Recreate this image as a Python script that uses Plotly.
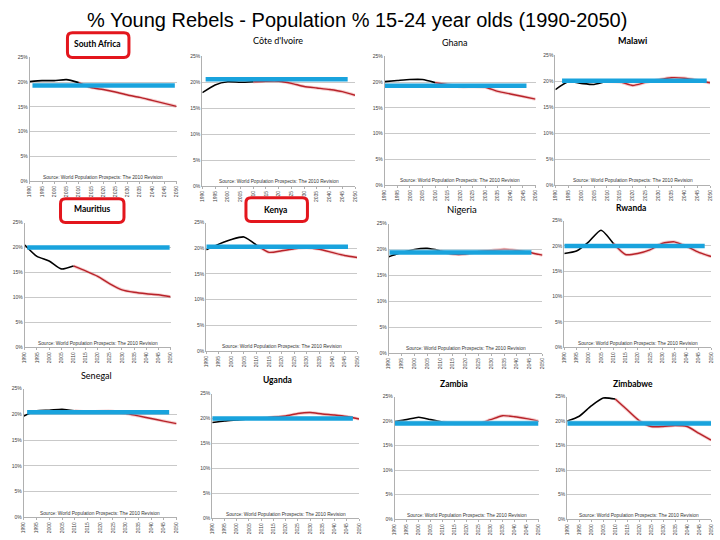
import plotly.graph_objects as go

# ---------------- data ----------------
years = [1990, 1995, 2000, 2005, 2010, 2015, 2020, 2025, 2030, 2035, 2040, 2045, 2050]
year_labels = [str(y) for y in years]
pct_ticks = [0, 5, 10, 15, 20, 25]
pct_labels = ["0%", "5%", "10%", "15%", "20%", "25%"]

countries = ["South Africa", "Côte d'Ivoire", "Ghana", "Malawi",
             "Mauritius", "Kenya", "Nigeria", "Rwanda",
             "Senegal", "Uganda", "Zambia", "Zimbabwe"]

south_africa = [20.1, 20.3, 20.3, 20.5, 19.9, 18.9, 18.5, 18.0, 17.4, 16.9, 16.3, 15.7, 15.1]
cote_divoire = [18.0, 19.5, 20.1, 20.0, 20.1, 20.2, 20.2, 19.8, 19.2, 18.9, 18.6, 18.2, 17.5]
ghana = [20.1, 20.3, 20.5, 20.5, 19.9, 19.5, 19.1, 19.1, 19.0, 18.2, 17.7, 17.2, 16.7]
malawi = [18.4, 19.9, 19.6, 19.4, 20.0, 19.9, 19.2, 19.8, 20.3, 20.7, 20.6, 20.2, 19.7]
mauritius = [20.5, 18.2, 17.3, 15.7, 16.3, 15.3, 14.2, 12.7, 11.5, 11.0, 10.7, 10.5, 10.1]
kenya = [19.7, 20.8, 21.7, 22.2, 20.6, 19.2, 19.5, 19.9, 20.1, 19.8, 19.2, 18.6, 18.2]
nigeria = [18.6, 19.4, 20.0, 20.2, 19.75, 19.1, 19.1, 19.6, 19.8, 20.0, 19.8, 19.4, 18.9]
rwanda = [18.5, 19.0, 20.8, 23.1, 20.5, 18.3, 18.5, 19.2, 20.5, 20.8, 19.9, 18.7, 17.9]
senegal = [19.7, 20.7, 20.8, 21.0, 20.7, 20.5, 20.6, 20.6, 20.2, 19.7, 19.2, 18.7, 18.2]
uganda = [19.2, 19.5, 19.7, 19.9, 20.0, 20.3, 20.5, 21.0, 21.2, 20.9, 20.7, 20.4, 19.9]
zambia = [19.9, 20.3, 20.8, 20.3, 19.8, 19.5, 19.5, 19.5, 20.3, 21.1, 20.9, 20.5, 20.0]
zimbabwe = [20.0, 21.0, 23.1, 24.7, 24.5, 22.3, 20.1, 18.9, 18.9, 19.1, 18.9, 17.5, 16.1]

series = [south_africa, cote_divoire, ghana, malawi, mauritius, kenya,
          nigeria, rwanda, senegal, uganda, zambia, zimbabwe]

# blue reference bar: level, start year, end year
bar_level = [19.3, 20.6, 19.3, 20.1, 20.0, 20.3, 19.4, 20.0, 20.4, 20.0, 19.5, 19.5]
bar_start = [1991.1, 1991.3, 1990.0, 1992.6, 1991.0, 1990.0, 1990.3, 1990.0, 1991.3, 1990.0, 1990.0, 1990.0]
bar_end = [2049.3, 2047.1, 2046.4, 2048.7, 2049.6, 2046.4, 2045.7, 2047.4, 2047.1, 2047.5, 2050.0, 2050.0]
# thin light outline above the bar (only where visible)
bar_outline = [None, None, None, None, None, None, 19.9, None, None, None, 20.0, 20.0]

highlighted = ["South Africa", "Mauritius", "Kenya"]
source_text = "Source: World Population Prospects: The 2010 Revision"
main_title = "% Young Rebels - Population % 15-24 year olds (1990-2050)"

# ---------------- layout geometry (pixels) ----------------
W, H = 720, 540
# left, right, top(25%), bottom(0%)
boxes = [
    (27, 175, 55, 180), (201, 355, 54, 185), (385, 537, 54, 184), (557, 713, 53, 184),
    (22, 169, 222, 348), (205, 357, 222, 352), (389, 544, 223, 354), (566, 714, 220, 348),
    (21, 175, 390, 520), (211, 359, 395, 521), (395, 540, 398, 522), (569, 714, 398, 522),
]
title_pos = [
    (95, 41), (277, 38), (456, 40), (635, 38),
    (90, 208), (275, 209), (463, 209), (633, 207),
    (94, 377), (277, 381), (455, 385), (635, 385),
]
title_bold = [True, False, False, True, True, True, False, True, False, True, True, True]
title_size = [8.5, 9, 9, 9, 8.5, 8.5, 9.5, 8.5, 9, 8.5, 8.5, 8.5]
red_boxes = {"South Africa": (65, 127, 30, 55), "Mauritius": (58, 122, 198, 222),
             "Kenya": (245, 307, 197, 221)}

BLACK = "#000000"
RED = "#b8232a"
BLUE = "#19a3dd"
GRID = "#c9c9c9"


def px_x(x):
    return x / W


def px_y(y):
    return 1 - y / H


fig = go.Figure()
annotations = []
shapes = []

for i, name in enumerate(countries):
    n = i + 1
    xa = "x" if n == 1 else f"x{n}"
    ya = "y" if n == 1 else f"y{n}"
    vals = series[i]
    # projection glow + line
    fig.add_trace(go.Scatter(x=years[4:], y=vals[4:], mode="lines", xaxis=xa, yaxis=ya,
                             line=dict(color="rgba(225,110,110,0.35)", width=3.2,
                                       shape="spline", smoothing=0.6),
                             hoverinfo="skip", showlegend=False))
    fig.add_trace(go.Scatter(x=years[4:], y=vals[4:], mode="lines", xaxis=xa, yaxis=ya,
                             line=dict(color=RED, width=1.4, shape="spline", smoothing=0.6),
                             name=name + " projection", showlegend=False))
    fig.add_trace(go.Scatter(x=years[:5], y=vals[:5], mode="lines", xaxis=xa, yaxis=ya,
                             line=dict(color=BLACK, width=1.6, shape="spline", smoothing=0.6),
                             name=name + " estimate", showlegend=False))
    if bar_outline[i] is not None:
        fig.add_trace(go.Scatter(x=[bar_start[i], bar_end[i]], y=[bar_outline[i]] * 2,
                                 mode="lines", xaxis=xa, yaxis=ya,
                                 line=dict(color="#a9def3", width=1),
                                 hoverinfo="skip", showlegend=False))
    fig.add_trace(go.Scatter(x=[bar_start[i], bar_end[i]], y=[bar_level[i]] * 2,
                             mode="lines", xaxis=xa, yaxis=ya,
                             line=dict(color=BLUE, width=4.5),
                             hoverinfo="skip", showlegend=False))

    l, r, t, b = boxes[i]
    axis_x = dict(domain=[px_x(l), px_x(r)], range=[1990, 2050], anchor=ya,
                  tickmode="array", tickvals=years, ticktext=year_labels, tickangle=-90,
                  tickfont=dict(size=5, color="#404040", family="Liberation Sans"),
                  showgrid=False, zeroline=False, showline=True, linecolor="#b0b0b0",
                  linewidth=1, ticks="outside", ticklen=2, tickcolor="#b0b0b0")
    axis_y = dict(domain=[px_y(b), px_y(t)], range=[0, 25], anchor=xa,
                  tickmode="array", tickvals=pct_ticks, ticktext=pct_labels,
                  tickfont=dict(size=5, color="#404040", family="Liberation Sans"),
                  showgrid=True, gridcolor=GRID, gridwidth=0.8, zeroline=False,
                  showline=True, linecolor="#b0b0b0", linewidth=1, ticks="")
    fig.layout["xaxis" if n == 1 else f"xaxis{n}"] = axis_x
    fig.layout["yaxis" if n == 1 else f"yaxis{n}"] = axis_y

    # source note
    annotations.append(dict(text=source_text, xref=xa, yref=ya, x=2020, y=0.8,
                            xanchor="center", yanchor="middle", showarrow=False,
                            font=dict(size=4.8, color="#333333", family="Liberation Sans")))
    # panel title
    tx, ty = title_pos[i]
    label = f"<b>{name}</b>" if title_bold[i] else name
    annotations.append(dict(text=label, xref="paper", yref="paper", x=px_x(tx), y=px_y(ty),
                            xanchor="center", yanchor="middle", showarrow=False,
                            font=dict(size=title_size[i], color="#000000", family="Lato")))

    if name in highlighted:
        bl, br, bt, bb = red_boxes[name]
        x0, x1 = px_x(bl), px_x(br)
        y0, y1 = px_y(bb), px_y(bt)
        rx, ry = 5 / W, 5 / H
        path = (f"M {x0+rx},{y1} L {x1-rx},{y1} Q {x1},{y1} {x1},{y1-ry} "
                f"L {x1},{y0+ry} Q {x1},{y0} {x1-rx},{y0} L {x0+rx},{y0} "
                f"Q {x0},{y0} {x0},{y0+ry} L {x0},{y1-ry} Q {x0},{y1} {x0+rx},{y1} Z")
        shapes.append(dict(type="path", path=path, xref="paper", yref="paper",
                           line=dict(color="#e3161d", width=3), fillcolor="white",
                           layer="above"))

annotations.append(dict(text=main_title, xref="paper", yref="paper", x=px_x(357), y=px_y(17),
                        xanchor="center", yanchor="middle", showarrow=False,
                        font=dict(size=20, color="#000000", family="Liberation Sans")))

fig.update_layout(width=W, height=H, margin=dict(l=0, r=0, t=0, b=0),
                  paper_bgcolor="white", plot_bgcolor="white",
                  annotations=annotations, shapes=shapes, showlegend=False)

fig.write_html("out.html")
